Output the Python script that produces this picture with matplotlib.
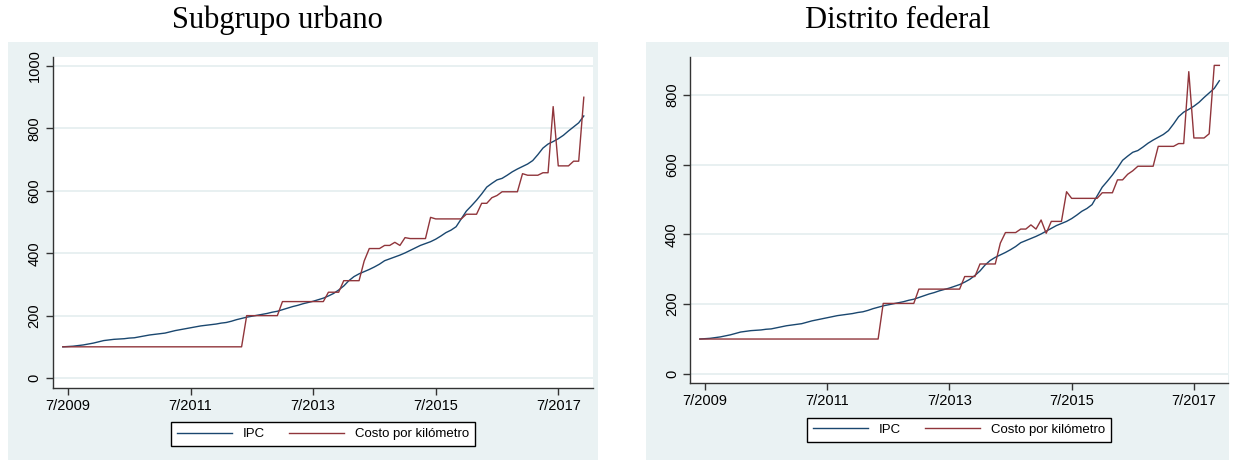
import numpy as np
import pandas as pd
import matplotlib
matplotlib.use('Agg')
import matplotlib.pyplot as plt
import matplotlib as mpl
from matplotlib.patches import Rectangle

# meses: junio 2009 a diciembre 2017
meses = pd.period_range('2009-06', '2017-12', freq='M')

# IPC (indice, mismo en los dos paneles), una fila por anio
ipc = [100, 101, 102, 104, 106, 109, 112,
       116, 120, 122, 124, 125, 126, 128, 129, 132, 135, 138, 140,
       142, 144, 148, 152, 155, 158, 161, 164, 167, 169, 171, 173,
       176, 178, 182, 187, 191, 195, 198, 201, 204, 207, 211, 214,
       219, 224, 229, 233, 238, 242, 246, 251, 256, 263, 271, 282,
       295, 312, 325, 334, 341, 348, 356, 365, 376, 382, 388, 394,
       401, 409, 417, 425, 431, 437, 445, 455, 466, 474, 485, 510,
       535, 552, 570, 590, 612, 624, 635, 640, 650, 661, 670, 678,
       686, 697, 716, 737, 750, 758, 767, 778, 792, 805, 818, 840]

# costo por kilometro, subgrupo urbano
costo_urbano = [100, 100, 100, 100, 100, 100, 100,
                100, 100, 100, 100, 100, 100, 100, 100, 100, 100, 100, 100,
                100, 100, 100, 100, 100, 100, 100, 100, 100, 100, 100, 100,
                100, 100, 100, 100, 100, 200, 200, 200, 200, 200, 200, 200,
                245, 245, 245, 245, 245, 245, 245, 245, 245, 275, 275, 275,
                312, 312, 312, 312, 375, 415, 415, 415, 425, 425, 435, 425,
                450, 447, 447, 447, 447, 515, 510, 510, 510, 510, 510, 510,
                525, 525, 525, 560, 560, 578, 585, 597, 597, 597, 597, 655,
                650, 650, 650, 658, 658, 870, 680, 680, 680, 695, 695, 900]

# costo por kilometro, distrito federal
costo_df = [100, 100, 100, 100, 100, 100, 100,
            100, 100, 100, 100, 100, 100, 100, 100, 100, 100, 100, 100,
            100, 100, 100, 100, 100, 100, 100, 100, 100, 100, 100, 100,
            100, 100, 100, 100, 100, 202, 202, 202, 202, 202, 202, 202,
            243, 243, 243, 243, 243, 243, 243, 243, 243, 279, 279, 279,
            315, 315, 315, 315, 375, 405, 405, 405, 415, 415, 427, 415,
            441, 403, 437, 437, 437, 522, 503, 503, 503, 503, 503, 503,
            519, 519, 519, 556, 556, 572, 582, 595, 595, 595, 595, 652,
            652, 652, 652, 660, 660, 866, 676, 676, 676, 688, 884, 884]

titulos = ['Subgrupo urbano', 'Distrito federal']
etiquetas = ['IPC', 'Costo por kilómetro']

W, H = 1233, 461
FONDO = '#eaf2f3'
AZUL = '#1a476f'
ROJO = '#90353b'
EJE = '#333333'


def rect(x0, y0, x1, y1):
    """pixeles (arriba-izquierda) a fraccion de figura"""
    return [x0 / W, 1 - y1 / H, (x1 - x0) / W, (y1 - y0) / H]


def panel(fig, titulo, costo, caja, ejes, xt, xlim, ylim, yticks, yleg):
    fig.add_artist(Rectangle((caja[0], caja[1]), caja[2], caja[3],
                             transform=fig.transFigure, facecolor=FONDO,
                             edgecolor='none', zorder=0))
    ax = fig.add_axes(ejes)
    x = np.arange(len(meses))
    ax.plot(x, ipc, color=AZUL, lw=1.0, label=etiquetas[0])
    ax.plot(x, costo, color=ROJO, lw=1.0, label=etiquetas[1])

    pos = [i for i, p in enumerate(meses) if p.month == 7 and p.year % 2 == 1]
    ax.set_xticks(pos)
    ax.set_xticklabels([f'{meses[i].month}/{meses[i].year}' for i in pos])
    ax.set_xlim(xlim)
    ax.set_ylim(ylim)
    ax.set_yticks(yticks)
    plt.setp(ax.get_yticklabels(), rotation=90, va='center')

    ax.grid(axis='y', color='#e6eff0', lw=1.3)
    ax.set_axisbelow(True)
    for s in ['top', 'right']:
        ax.spines[s].set_visible(False)
    for s in ['left', 'bottom']:
        ax.spines[s].set_color(EJE)
        ax.spines[s].set_linewidth(1.0)
    ax.tick_params(direction='out', length=5, width=1, color=EJE,
                   labelsize=10.5, pad=3)

    leg = ax.legend(loc='center', bbox_to_anchor=(0.5, yleg), ncol=2,
                    fancybox=False, edgecolor='black', framealpha=1,
                    fontsize=9.5, handlelength=4.2, handletextpad=0.8,
                    columnspacing=1.8, borderpad=0.45)
    leg.get_frame().set_linewidth(1.0)

    fig.text(xt / W, 1 - 20 / H, titulo, ha='center', va='center',
             fontsize=22, family='Liberation Serif')
    return ax


mpl.rc('font', family='Liberation Sans', size=10.5)
fig = plt.figure(figsize=(12.33, 4.61), dpi=100)

panel(fig, titulos[0], costo_urbano, rect(8, 42, 598, 460),
      rect(52.6, 57, 593, 388), 277, (-2.0, 103.8), (-32, 1029),
      range(0, 1001, 200), -0.14)
panel(fig, titulos[1], costo_df, rect(646, 42, 1229, 460),
      rect(690, 57, 1228, 383), 898, (-1.94, 103.7), (-26, 908),
      range(0, 801, 200), -0.144)

fig.savefig('out.png', dpi=100)
